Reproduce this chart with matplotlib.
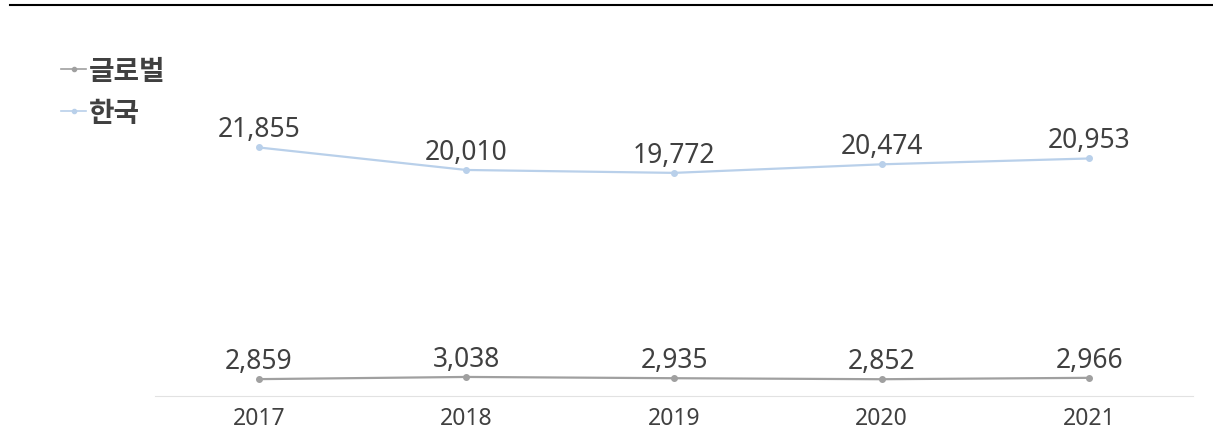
import matplotlib.pyplot as plt
from matplotlib.lines import Line2D

plt.rcParams['font.family'] = ['Noto Sans CJK KR', 'DejaVu Sans']
num_font = ['Noto Sans', 'Noto Sans CJK KR']

years = ['2017', '2018', '2019', '2020', '2021']
global_vals = [2859, 3038, 2935, 2852, 2966]
korea_vals = [21855, 20010, 19772, 20474, 20953]

fig = plt.figure(figsize=(12.13, 4.31), dpi=100)
ax = fig.add_axes([155 / 1213, 1 - 397 / 431, (1193 - 155) / 1213, (397 - 20) / 431])

x = range(len(years))
ax.plot(x, global_vals, color='#a0a0a0', lw=1.6, marker='o', ms=4, label='글로벌')
ax.plot(x, korea_vals, color='#b9d0ea', lw=1.6, marker='o', ms=4, label='한국')

for i in x:
    ax.annotate(f'{global_vals[i]:,}', (i, global_vals[i]), xytext=(0, 3),
                textcoords='offset points', ha='center', va='bottom',
                fontsize=19, color='#404040', family=num_font)
    ax.annotate(f'{korea_vals[i]:,}', (i, korea_vals[i]), xytext=(0, 3),
                textcoords='offset points', ha='center', va='bottom',
                fontsize=19, color='#404040', family=num_font)

ax.set_xlim(-0.5, 4.5)
ax.set_ylim(1476, 32390)
ax.set_xticks(list(x))
ax.set_xticklabels(years, fontsize=16.5, color='#404040', family=num_font)
ax.tick_params(axis='x', length=0, pad=7)
ax.set_yticks([])
for s in ['top', 'left', 'right']:
    ax.spines[s].set_visible(False)
ax.spines['bottom'].set_color('#e2e2e2')

leg_handles = [Line2D([], [], color='#a0a0a0', lw=1.2, marker='o', ms=3),
               Line2D([], [], color='#b9d0ea', lw=1.2, marker='o', ms=3)]
fig.legend(leg_handles, ['글로벌', '한국'], loc='upper left',
           bbox_to_anchor=(36 / 1213, 1 - 33 / 431), frameon=False,
           handlelength=0.9, handletextpad=0.1, labelspacing=0.5,
           prop={'size': 20, 'weight': 'bold'}, labelcolor='#404040')

# top rule
fig.add_artist(Line2D([10 / 1213, 1], [1 - 6 / 431, 1 - 6 / 431], color='black', lw=1.5,
                      transform=fig.transFigure))

fig.savefig('out.png', dpi=100)
